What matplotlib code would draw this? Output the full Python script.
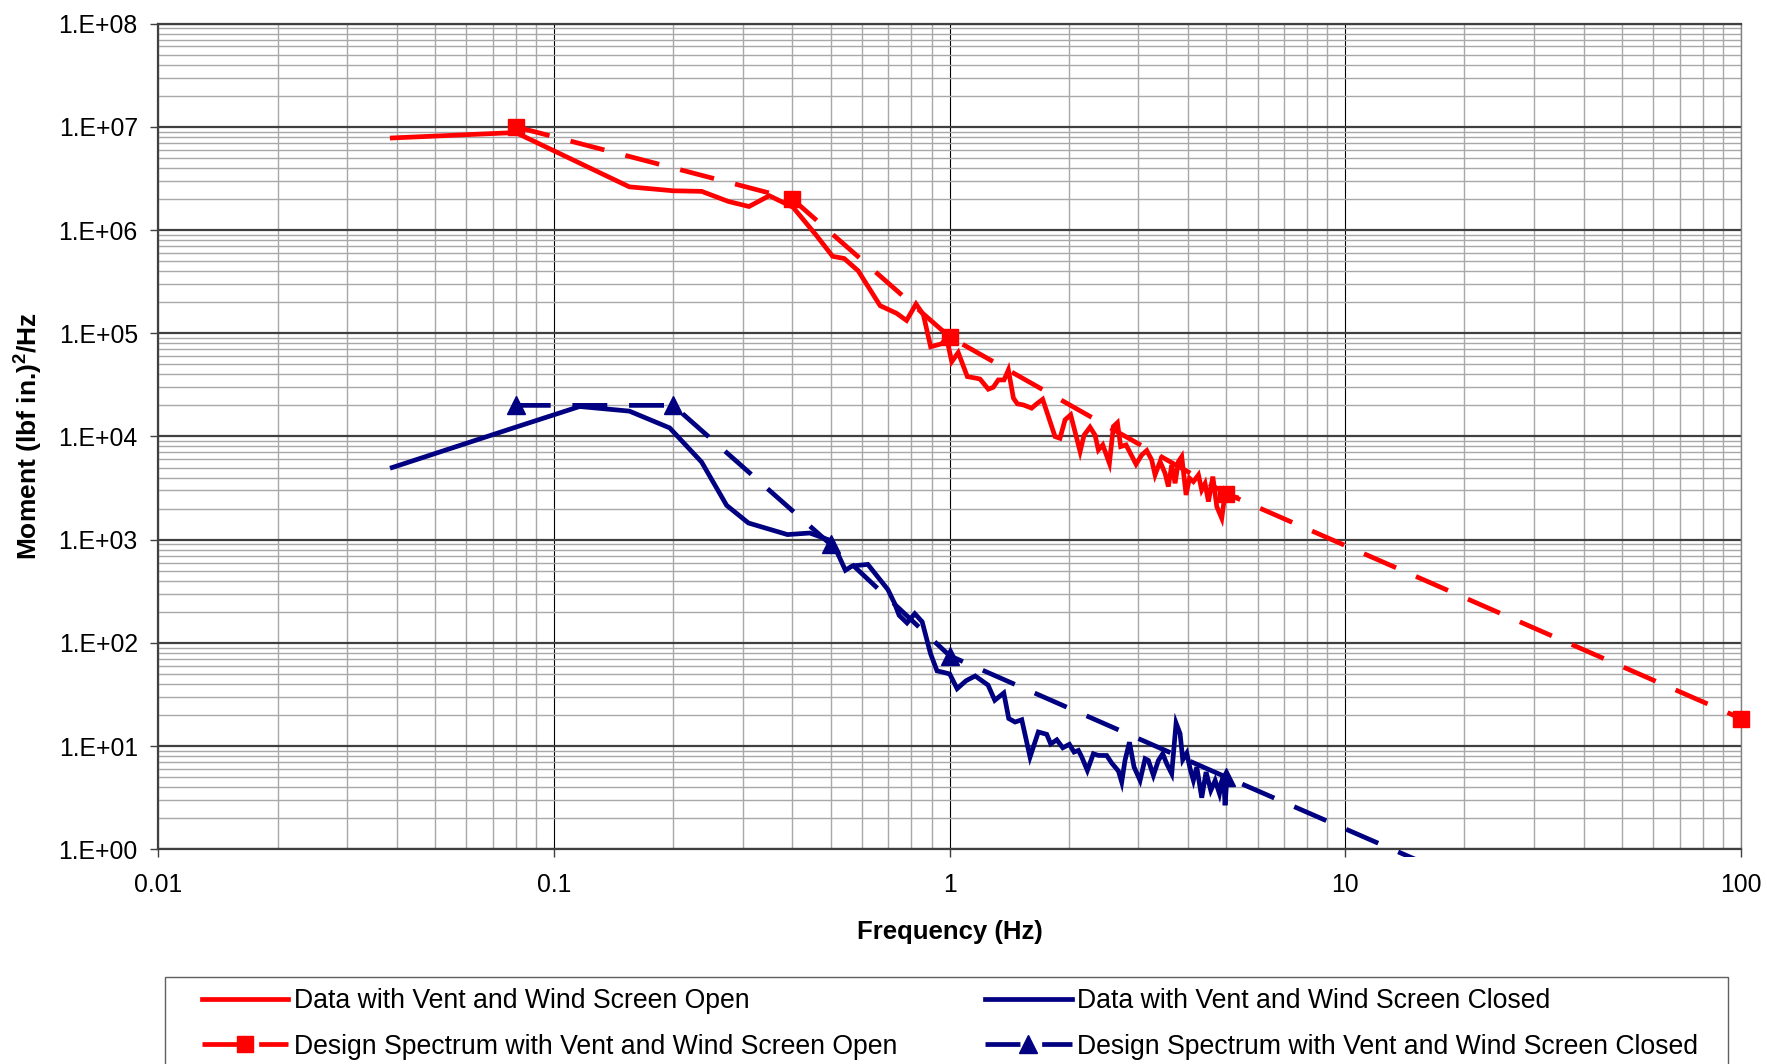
import numpy as np
import matplotlib
matplotlib.use("Agg")
import matplotlib.pyplot as plt
from matplotlib.ticker import LogLocator, NullFormatter
from matplotlib.patches import Rectangle

plt.rcParams['font.family'] = ['Liberation Sans', 'DejaVu Sans']
plt.rcParams['mathtext.fontset'] = 'custom'
plt.rcParams['mathtext.rm'] = 'Liberation Sans:bold'
plt.rcParams['mathtext.bf'] = 'Liberation Sans:bold'
plt.rcParams['mathtext.default'] = 'bf'

# ---------------- data ----------------
open_data_f = [0.039, 0.08, 0.155, 0.2, 0.236, 0.276, 0.311, 0.35, 0.402, 0.461, 0.506,
               0.541, 0.587, 0.667, 0.734, 0.778, 0.822, 0.858, 0.895, 0.954, 0.982,
               1.012, 1.051, 1.108, 1.17, 1.193, 1.252, 1.289, 1.327, 1.372, 1.407,
               1.449, 1.483, 1.536, 1.611, 1.659, 1.718, 1.776, 1.846, 1.90, 1.957,
               2.022, 2.136, 2.186, 2.263, 2.33, 2.376, 2.437, 2.533, 2.593, 2.654,
               2.705, 2.791, 2.958, 3.058, 3.148, 3.24, 3.304, 3.402, 3.502, 3.57,
               3.64, 3.712, 3.785, 3.859, 3.958, 4.036, 4.13, 4.253, 4.335, 4.42,
               4.508, 4.624, 4.732, 4.871, 4.966, 5.063, 5.212, 5.3]
open_data_m = [7.8e6, 8.8e6, 2.62e6, 2.4e6, 2.37e6, 1.89e6, 1.69e6, 2.15e6, 1.66e6, 8.8e5, 5.56e5,
               5.3e5, 4.03e5, 1.85e5, 1.56e5, 1.33e5, 1.92e5, 1.51e5, 7.4e4, 7.9e4, 9.0e4,
               5.3e4, 6.5e4, 3.8e4, 3.66e4, 3.6e4, 2.87e4, 3.0e4, 3.53e4, 3.53e4, 4.41e4,
               2.35e4, 2.07e4, 2.02e4, 1.88e4, 2.07e4, 2.29e4, 1.56e4, 9.97e3, 9.6e3, 1.45e4,
               1.62e4, 7.14e3, 1.03e4, 1.23e4, 1.03e4, 7.4e3, 8.28e3, 5.5e3, 1.25e4, 1.36e4,
               7.98e3, 8.28e3, 5.38e3, 6.62e3, 7.3e3, 5.92e3, 4.24e3, 5.71e3, 4.4e3, 3.27e3,
               5.3e3, 3.52e3, 5.71e3, 6.38e3, 2.71e3, 3.94e3, 3.65e3, 4.24e3, 3.03e3, 3.5e3,
               2.34e3, 4.08e3, 2.09e3, 1.61e3, 2.82e3, 2.43e3, 2.61e3, 2.57e3]

closed_data_f = [0.039, 0.08, 0.116, 0.155, 0.196, 0.236, 0.273, 0.31, 0.389, 0.443, 0.504,
                 0.545, 0.567, 0.621, 0.698, 0.726, 0.745, 0.78, 0.816, 0.852, 0.894,
                 0.929, 0.96, 1.0, 1.044, 1.10, 1.16, 1.25, 1.30, 1.37, 1.41, 1.463,
                 1.521, 1.596, 1.675, 1.759, 1.80, 1.865, 1.931, 2.007, 2.062, 2.115,
                 2.157, 2.228, 2.307, 2.376, 2.494, 2.567, 2.67, 2.721, 2.774, 2.846,
                 2.924, 3.028, 3.118, 3.178, 3.272, 3.369, 3.455, 3.536, 3.64, 3.734,
                 3.822, 3.882, 3.974, 4.052, 4.13, 4.212, 4.335, 4.446, 4.57, 4.687,
                 4.806, 4.918, 4.966, 5.014]
closed_data_m = [5.0e3, 1.23e4, 1.95e4, 1.76e4, 1.21e4, 5.65e3, 2.15e3, 1.45e3, 1.12e3, 1.16e3, 970,
                 505, 556, 576, 328, 240, 185, 156, 192, 160, 79,
                 53.5, 52, 50, 36, 43, 47.8, 39, 27.8, 32.7, 18.5, 17.1,
                 18.0, 7.83, 13.7, 13.0, 10.5, 11.5, 9.63, 10.4, 8.75, 9.08,
                 7.83, 5.81, 8.43, 8.12, 8.1, 6.85, 5.73, 4.48, 7.27, 10.9,
                 6.26, 4.65, 7.54, 7.27, 5.20, 7.27, 8.43, 6.75, 5.40, 16.7,
                 13.2, 7.37, 8.55, 6.03, 4.65, 6.26, 3.16, 5.60, 3.72, 4.65,
                 3.46, 5.40, 2.67, 4.65]

open_design_f = [0.08, 0.4, 1, 5, 100]
open_design_m = [1.0e7, 2.0e6, 9.2e4, 2.8e3, 18.5]

closed_design_f = [0.08, 0.2, 0.5, 1, 5, 100]
closed_design_m = [2.0e4, 2.0e4, 900, 75, 5, 0.034]

y_ticks = [1e0, 1e1, 1e2, 1e3, 1e4, 1e5, 1e6, 1e7, 1e8]
y_tick_labels = ['1.E+00', '1.E+01', '1.E+02', '1.E+03', '1.E+04',
                 '1.E+05', '1.E+06', '1.E+07', '1.E+08']
x_ticks = [0.01, 0.1, 1, 10, 100]
x_tick_labels = ['0.01', '0.1', '1', '10', '100']

labels = ['Data with Vent and Wind Screen Open',
          'Data with Vent and Wind Screen Closed',
          'Design Spectrum with Vent and Wind Screen Open',
          'Design Spectrum with Vent and Wind Screen Closed']

RED = '#FF0000'
NAVY = '#000080'

# ---------------- figure ----------------
W, H = 1767, 1064
fig = plt.figure(figsize=(W / 100, H / 100), dpi=100)
ax = fig.add_axes([158.4 / W, 1 - 849.3 / H, (1741 - 158.4) / W, (849.3 - 23.6) / H])

lw = 3.4
dash = (7.4, 4.6)

h1, = ax.plot(open_data_f, open_data_m, color=RED, lw=lw, solid_joinstyle='miter', zorder=3)
h2, = ax.plot(closed_data_f, closed_data_m, color=NAVY, lw=lw, solid_joinstyle='miter', zorder=3)
h3, = ax.plot(open_design_f, open_design_m, color=RED, lw=lw, dashes=dash,
              marker='s', ms=12, mec=RED, mfc=RED, clip_on=False, zorder=4)
h4, = ax.plot(closed_design_f, closed_design_m, color=NAVY, lw=lw, dashes=dash,
              marker='^', ms=12.5, mec=NAVY, mfc=NAVY, zorder=4)
clip = Rectangle((-0.02, -0.009), 1.04, 1.02, transform=ax.transAxes)
h4.set_clip_path(clip)

ax.set_xscale('log')
ax.set_yscale('log')
ax.set_xlim(0.01, 100)
ax.set_ylim(1, 1e8)

ax.set_xticks(x_ticks, x_tick_labels)
ax.set_yticks(y_ticks, y_tick_labels)
ax.xaxis.set_minor_locator(LogLocator(base=10, subs=np.arange(2, 10), numticks=100))
ax.yaxis.set_minor_locator(LogLocator(base=10, subs=np.arange(2, 10), numticks=100))
ax.xaxis.set_minor_formatter(NullFormatter())
ax.yaxis.set_minor_formatter(NullFormatter())

ax.tick_params(axis='both', which='major', direction='out', length=5.8, width=1.0,
               color='#404040', labelsize=17.8, labelcolor='black')
ax.tick_params(axis='x', which='major', pad=11)
ax.tick_params(axis='y', which='major', pad=9)
ax.tick_params(axis='both', which='minor', length=0)

ax.grid(which='minor', axis='y', color='#a8a8a8', lw=1.0, zorder=0)
ax.grid(which='minor', axis='x', color='#a8a8a8', lw=1.0, zorder=0)
ax.grid(which='major', axis='y', color='#404040', lw=1.6, zorder=1)
ax.grid(which='major', axis='x', color='#000000', lw=0.8, zorder=1)
ax.set_axisbelow(True)

for s in ['left', 'bottom', 'top']:
    ax.spines[s].set_color('#404040')
    ax.spines[s].set_linewidth(1.6)
ax.spines['right'].set_color('#808080')
ax.spines['right'].set_linewidth(1.0)

ax.set_xlabel('Frequency (Hz)', fontsize=18.5, fontweight='bold')
ax.set_ylabel(r'Moment (lbf in.)$^{2}$/Hz', fontsize=19, fontweight='bold')
ax.xaxis.set_label_coords(0.5, -0.1002)
ax.xaxis.label.set_va('center')
ax.yaxis.set_label_coords(-0.082, 0.5)
ax.yaxis.label.set_va('center')

# ---------------- legend ----------------
leg_kw = dict(loc='upper left', frameon=False, borderpad=0, borderaxespad=0,
              handlelength=3.25, handletextpad=0.2, labelspacing=0.72,
              fontsize=19.2, numpoints=1)
fig.legend([h1, h3], [labels[0], labels[2]],
           bbox_to_anchor=(201.6 / W, 1 - 988.5 / H), **leg_kw)
fig.legend([h2, h4], [labels[1], labels[3]],
           bbox_to_anchor=(985 / W, 1 - 988.5 / H), **leg_kw)
frame = Rectangle((165 / W, -0.02), (1728 - 165) / W, 0.02 + 1 - 977 / H,
                  transform=fig.transFigure, fill=False, ec='#606060', lw=1.0)
fig.add_artist(frame)

fig.savefig('out.png', dpi=100)
